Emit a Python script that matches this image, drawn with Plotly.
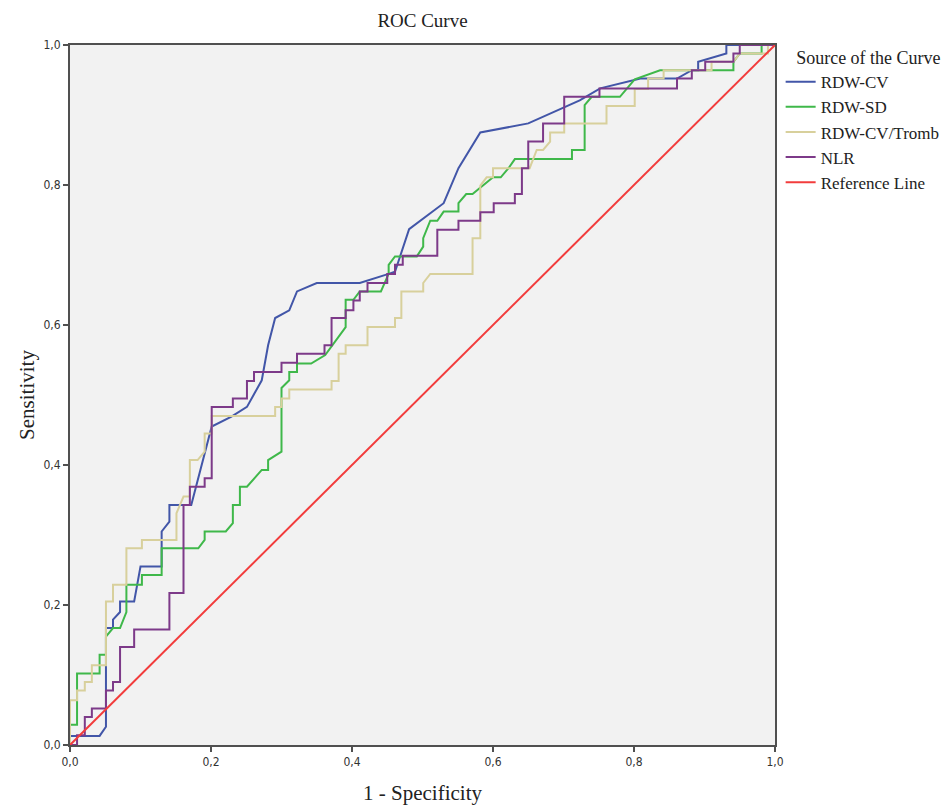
import plotly.graph_objects as go

# ---- data ----
series_names = ["RDW-CV", "RDW-SD", "RDW-CV/Tromb", "NLR", "Reference Line"]
series_colors = ["#4256a8", "#3fb84a", "#d8d09c", "#7d3a89", "#f23c3c"]

rdwcv_x = [0, 0, 0.042, 0.051, 0.051, 0.061, 0.061, 0.071, 0.071, 0.091, 0.100, 0.130, 0.130, 0.141, 0.141,
           0.172, 0.201, 0.229, 0.251, 0.272, 0.281, 0.291, 0.311, 0.322, 0.350, 0.411, 0.452, 0.461, 0.481,
           0.530, 0.551, 0.582, 0.650, 0.723, 0.752, 0.809, 0.861, 0.882, 0.891, 0.891, 0.931, 0.931, 1.0]
rdwcv_y = [0, 0.013, 0.013, 0.026, 0.167, 0.167, 0.179, 0.190, 0.205, 0.205, 0.255, 0.255, 0.305, 0.319, 0.343,
           0.343, 0.455, 0.469, 0.483, 0.521, 0.571, 0.610, 0.621, 0.648, 0.660, 0.660, 0.673, 0.676, 0.737,
           0.774, 0.824, 0.875, 0.888, 0.921, 0.938, 0.952, 0.952, 0.964, 0.964, 0.976, 0.988, 1.0, 1.0]

rdwsd_x = [0, 0, 0.010, 0.010, 0.042, 0.042, 0.051, 0.051, 0.061, 0.071, 0.080, 0.080, 0.102, 0.102, 0.130,
           0.130, 0.182, 0.191, 0.191, 0.221, 0.231, 0.231, 0.241, 0.241, 0.251, 0.272, 0.281, 0.281, 0.300,
           0.300, 0.311, 0.311, 0.322, 0.322, 0.342, 0.362, 0.391, 0.391, 0.402, 0.411, 0.441, 0.452, 0.452,
           0.461, 0.492, 0.501, 0.501, 0.511, 0.521, 0.530, 0.551, 0.551, 0.562, 0.571, 0.600, 0.611, 0.622,
           0.631, 0.712, 0.712, 0.730, 0.730, 0.740, 0.780, 0.801, 0.837, 0.941, 0.941, 0.950, 0.981, 0.981, 1.0]
rdwsd_y = [0, 0.029, 0.029, 0.102, 0.102, 0.129, 0.129, 0.155, 0.167, 0.167, 0.190, 0.229, 0.229, 0.243, 0.243,
           0.281, 0.281, 0.293, 0.305, 0.305, 0.317, 0.343, 0.343, 0.369, 0.369, 0.393, 0.393, 0.407, 0.419,
           0.510, 0.521, 0.533, 0.533, 0.545, 0.545, 0.557, 0.597, 0.636, 0.636, 0.648, 0.648, 0.673, 0.686,
           0.698, 0.698, 0.712, 0.724, 0.749, 0.749, 0.762, 0.762, 0.774, 0.787, 0.787, 0.811, 0.811, 0.824,
           0.837, 0.837, 0.850, 0.850, 0.914, 0.926, 0.926, 0.951, 0.964, 0.964, 0.976, 0.988, 0.988, 1.0, 1.0]

tromb_x = [0, 0, 0.010, 0.010, 0.021, 0.021, 0.031, 0.031, 0.051, 0.051, 0.061, 0.061, 0.080, 0.080, 0.102,
           0.102, 0.151, 0.151, 0.161, 0.170, 0.170, 0.181, 0.191, 0.191, 0.201, 0.201, 0.291, 0.291, 0.300,
           0.300, 0.311, 0.311, 0.371, 0.371, 0.381, 0.381, 0.391, 0.391, 0.422, 0.422, 0.461, 0.461, 0.470,
           0.470, 0.501, 0.501, 0.511, 0.571, 0.571, 0.582, 0.582, 0.591, 0.600, 0.600, 0.652, 0.662, 0.671,
           0.681, 0.681, 0.701, 0.701, 0.761, 0.761, 0.801, 0.801, 0.820, 0.820, 0.842, 0.842, 0.910, 0.910,
           0.941, 0.950, 0.990, 0.990, 1.0]
tromb_y = [0, 0.064, 0.064, 0.078, 0.078, 0.090, 0.090, 0.114, 0.114, 0.205, 0.205, 0.229, 0.229, 0.281, 0.281,
           0.293, 0.293, 0.331, 0.355, 0.355, 0.407, 0.407, 0.419, 0.445, 0.445, 0.470, 0.470, 0.483, 0.483,
           0.495, 0.495, 0.508, 0.508, 0.520, 0.520, 0.559, 0.559, 0.571, 0.571, 0.597, 0.597, 0.610, 0.610,
           0.648, 0.648, 0.660, 0.673, 0.673, 0.724, 0.724, 0.799, 0.811, 0.811, 0.824, 0.824, 0.850, 0.850,
           0.862, 0.875, 0.875, 0.888, 0.888, 0.913, 0.913, 0.937, 0.937, 0.952, 0.952, 0.964, 0.964, 0.976,
           0.976, 0.988, 0.988, 1.0, 1.0]

nlr_x = [0, 0.010, 0.010, 0.021, 0.021, 0.031, 0.031, 0.051, 0.051, 0.061, 0.061, 0.071, 0.071, 0.091, 0.091,
         0.141, 0.141, 0.161, 0.161, 0.170, 0.170, 0.191, 0.191, 0.201, 0.201, 0.231, 0.231, 0.251, 0.251,
         0.261, 0.261, 0.300, 0.300, 0.322, 0.322, 0.361, 0.361, 0.371, 0.371, 0.391, 0.391, 0.402, 0.402,
         0.411, 0.411, 0.422, 0.422, 0.450, 0.450, 0.461, 0.461, 0.472, 0.472, 0.521, 0.521, 0.551, 0.551,
         0.582, 0.582, 0.601, 0.601, 0.631, 0.631, 0.641, 0.641, 0.650, 0.650, 0.671, 0.671, 0.701, 0.701,
         0.751, 0.751, 0.861, 0.861, 0.882, 0.882, 0.901, 0.901, 0.941, 0.941, 0.950, 0.950, 1.0]
nlr_y = [0, 0, 0.014, 0.014, 0.040, 0.040, 0.052, 0.052, 0.078, 0.078, 0.090, 0.090, 0.140, 0.140, 0.165,
         0.165, 0.217, 0.217, 0.343, 0.343, 0.369, 0.369, 0.381, 0.381, 0.483, 0.483, 0.495, 0.495, 0.520,
         0.520, 0.533, 0.533, 0.546, 0.546, 0.559, 0.559, 0.571, 0.571, 0.610, 0.610, 0.621, 0.621, 0.635,
         0.635, 0.648, 0.648, 0.660, 0.660, 0.673, 0.673, 0.686, 0.686, 0.699, 0.699, 0.736, 0.736, 0.749,
         0.749, 0.761, 0.761, 0.774, 0.774, 0.787, 0.787, 0.824, 0.824, 0.862, 0.862, 0.888, 0.888, 0.926,
         0.926, 0.938, 0.938, 0.952, 0.952, 0.964, 0.964, 0.976, 0.976, 0.988, 0.988, 1.0, 1.0]

ref_x = [0, 1]
ref_y = [0, 1]

tick_vals = [0, 0.2, 0.4, 0.6, 0.8, 1.0]

series_x = [rdwcv_x, rdwsd_x, tromb_x, nlr_x, ref_x]
series_y = [rdwcv_y, rdwsd_y, tromb_y, nlr_y, ref_y]

SERIF = "Liberation Serif, Times New Roman, serif"
NARROW = "Liberation Sans Narrow, Arial Narrow, DejaVu Sans Condensed, sans-serif"

# the page body adds an 8px offset; margins compensate so the plot sits at 70..775 x 45..745
W, H = 951, 807

fig = go.Figure()
for name, color, xs, ys in zip(series_names, series_colors, series_x, series_y):
    fig.add_trace(go.Scatter(x=xs, y=ys, mode="lines", name=name,
                             line=dict(color=color, width=2)))

axis_common = dict(
    range=[0, 1], tickvals=tick_vals, tickformat=".1f",
    showgrid=False, zeroline=False,
    showline=True, mirror=True, linecolor="#505050", linewidth=2,
    ticks="outside", ticklen=5, tickwidth=1.5, tickcolor="#505050",
    tickfont=dict(family=NARROW, size=12, color="#333333"),
    fixedrange=True, automargin=False,
)

fig.update_layout(
    width=W, height=H,
    margin=dict(l=62, r=184, t=37, b=70, autoexpand=False),
    paper_bgcolor="white", plot_bgcolor="#f2f2f2",
    separators=", ",
    title=dict(text="ROC Curve", font=dict(family=SERIF, size=19, color="#222222"),
               x=0.5, xref="paper", xanchor="center", y=1 - 12 / H, yref="container", yanchor="middle"),
    xaxis=dict(axis_common, title=dict(text="1 - Specificity", font=dict(family=SERIF, size=21, color="#222222"),
                                       standoff=17)),
    yaxis=dict(axis_common, title=dict(text="Sensitivity", font=dict(family=SERIF, size=21, color="#222222"),
                                       standoff=3)),
    legend=dict(
        x=1.008, xanchor="left", y=1.006, yanchor="top",
        bgcolor="rgba(0,0,0,0)",
        title=dict(text="&nbsp;&nbsp;&nbsp;Source of the Curve", font=dict(family=SERIF, size=18, color="#222222")),
        font=dict(family=SERIF, size=17, color="#222222"),
        itemwidth=30,
    ),
    showlegend=True,
)

fig.write_html("out.html")
